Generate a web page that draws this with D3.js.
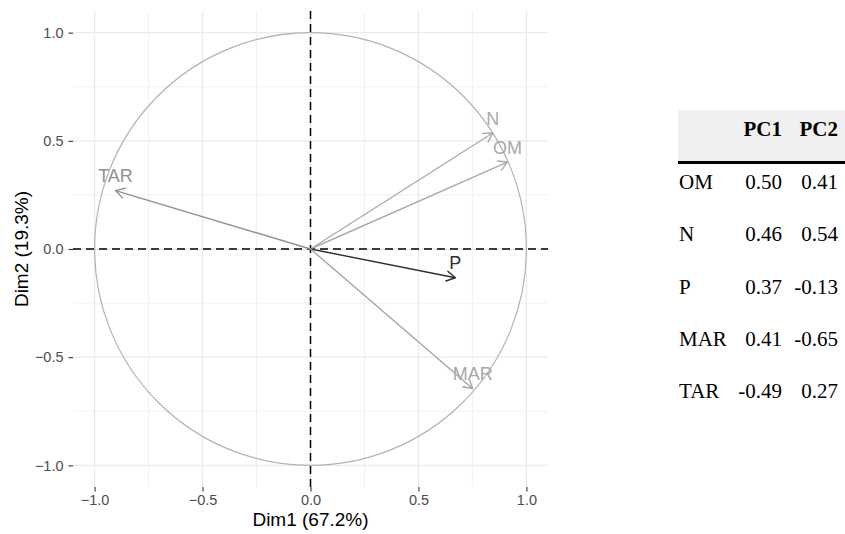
<!DOCTYPE html>
<html><head><meta charset="utf-8">
<script src="https://cdn.jsdelivr.net/npm/d3@7"></script>
<style>
  body { margin: 0; background: #fff; }
  svg { display: block; }
</style>
</head><body>
<svg id="chart" width="845" height="534"></svg>
<script>
// Variable correlations with the first two principal dimensions
const variables = ["OM", "N", "P", "MAR", "TAR"];
const dim1 = [0.912, 0.844, 0.671, 0.751, -0.903];
const dim2 = [0.402, 0.536, -0.133, -0.645, 0.270];

// Axis ticks
const majorTicks = [-1.0, -0.5, 0.0, 0.5, 1.0];
const minorTicks = [-0.75, -0.25, 0.25, 0.75];
const xTitle = "Dim1 (67.2%)";
const yTitle = "Dim2 (19.3%)";

// Loadings table
const tableColumns = ["", "PC1", "PC2"];
const tableRows = ["OM", "N", "P", "MAR", "TAR"];
const pc1 = [0.50, 0.46, 0.37, 0.41, -0.49];
const pc2 = [0.41, 0.54, -0.13, -0.65, 0.27];

const svg = d3.select("#chart");
const sans = "'Liberation Sans', Arial, Helvetica, sans-serif";
const serif = "'Liberation Serif', 'Times New Roman', serif";

const panel = { left: 73, right: 548, top: 11, bottom: 487 };
const x = d3.scaleLinear().domain([-1.1, 1.1]).range([panel.left, panel.right]);
const y = d3.scaleLinear().domain([-1.1, 1.1]).range([panel.bottom, panel.top]);

// grid
const grid = svg.append("g");
const gridLines = (ticks, width) => ticks.forEach(t => {
  grid.append("line").attr("x1", x(t)).attr("x2", x(t)).attr("y1", panel.top).attr("y2", panel.bottom)
    .attr("stroke", "#ebebeb").attr("stroke-width", width);
  grid.append("line").attr("y1", y(t)).attr("y2", y(t)).attr("x1", panel.left).attr("x2", panel.right)
    .attr("stroke", "#ebebeb").attr("stroke-width", width);
});
gridLines(minorTicks, 0.7);
gridLines(majorTicks, 1.3);

// axes
const fmt = d3.format(".1f");
const xAxis = svg.append("g").attr("transform", `translate(0,${panel.bottom})`)
  .call(d3.axisBottom(x).tickValues(majorTicks).tickFormat(fmt).tickSizeInner(4.5).tickSizeOuter(0).tickPadding(3));
const yAxis = svg.append("g").attr("transform", `translate(${panel.left},0)`)
  .call(d3.axisLeft(y).tickValues(majorTicks).tickFormat(fmt).tickSizeInner(4.5).tickSizeOuter(0).tickPadding(5));
[xAxis, yAxis].forEach(a => {
  a.select(".domain").remove();
  a.selectAll(".tick line").attr("stroke", "#333").attr("stroke-width", 1.1);
  a.selectAll(".tick text").attr("fill", "#4d4d4d").style("font-family", sans).style("font-size", "14.5px");
});

svg.append("text").attr("x", (panel.left + panel.right) / 2).attr("y", 526)
  .attr("text-anchor", "middle").style("font-family", sans).style("font-size", "19px").attr("fill", "#000")
  .text(xTitle);
svg.append("text").attr("transform", `translate(28,${(panel.top + panel.bottom) / 2}) rotate(-90)`)
  .attr("text-anchor", "middle").style("font-family", sans).style("font-size", "19px").attr("fill", "#000")
  .text(yTitle);

// correlation circle
svg.append("ellipse").attr("cx", x(0)).attr("cy", y(0))
  .attr("rx", x(1) - x(0)).attr("ry", y(0) - y(1))
  .attr("fill", "none").attr("stroke", "#b3b3b3").attr("stroke-width", 1.2);

// reference lines through the origin
svg.append("line").attr("x1", x(0)).attr("x2", x(0)).attr("y1", panel.top).attr("y2", panel.bottom + 2)
  .attr("stroke", "#000").attr("stroke-width", 1.5).attr("stroke-dasharray", "8,5");
svg.append("line").attr("y1", y(0)).attr("y2", y(0)).attr("x1", panel.left).attr("x2", panel.right)
  .attr("stroke", "#000").attr("stroke-width", 1.5).attr("stroke-dasharray", "8,5");

// arrows coloured by quality of representation
const cos2 = dim1.map((d, i) => d * d + dim2[i] * dim2[i]);
const color = d3.scaleLinear().domain([d3.min(cos2), 1]).range(["#2e2e2e", "#ababab"]).clamp(true);

const headLen = 10, headAng = Math.PI / 6;
const arrows = svg.append("g");
variables.forEach((v, i) => {
  const ox = x(0), oy = y(0), tx = x(dim1[i]), ty = y(dim2[i]);
  const th = Math.atan2(ty - oy, tx - ox);
  const c = color(cos2[i]);
  arrows.append("line").attr("x1", ox).attr("y1", oy).attr("x2", tx).attr("y2", ty)
    .attr("stroke", c).attr("stroke-width", 1.4);
  const p1 = [tx - headLen * Math.cos(th - headAng), ty - headLen * Math.sin(th - headAng)];
  const p2 = [tx - headLen * Math.cos(th + headAng), ty - headLen * Math.sin(th + headAng)];
  arrows.append("path").attr("d", `M${p1[0]},${p1[1]}L${tx},${ty}L${p2[0]},${p2[1]}`)
    .attr("fill", "none").attr("stroke", c).attr("stroke-width", 1.4)
    .attr("stroke-linejoin", "round").attr("stroke-linecap", "round");
  arrows.append("text").attr("x", tx).attr("y", ty - 15).attr("dy", "0.36em")
    .attr("text-anchor", "middle").style("font-family", sans).style("font-size", "18px")
    .attr("fill", c).text(v);
});

// loadings table
const tbl = svg.append("g");
const tLeft = 678, tRight = 845;
const colX = [679, 782, 838];
const tFont = "21px";
tbl.append("rect").attr("x", tLeft).attr("y", 110).attr("width", tRight - tLeft).attr("height", 51)
  .attr("fill", "#f0f0f0");
tbl.append("line").attr("x1", tLeft).attr("x2", tRight).attr("y1", 162.5).attr("y2", 162.5)
  .attr("stroke", "#000").attr("stroke-width", 3);
tableColumns.forEach((h, j) => {
  if (!h) return;
  tbl.append("text").attr("x", colX[j]).attr("y", 136).attr("text-anchor", "end")
    .style("font-family", serif).style("font-size", tFont).style("font-weight", "bold").text(h);
});
const rowStep = 52.3;
tableRows.forEach((r, i) => {
  const by = 189 + i * rowStep;
  const cells = [r, pc1[i].toFixed(2), pc2[i].toFixed(2)];
  cells.forEach((c, j) => {
    tbl.append("text").attr("x", colX[j]).attr("y", by)
      .attr("text-anchor", j === 0 ? "start" : "end")
      .style("font-family", serif).style("font-size", tFont).attr("fill", "#000").text(c);
  });
});
</script>
</body></html>
